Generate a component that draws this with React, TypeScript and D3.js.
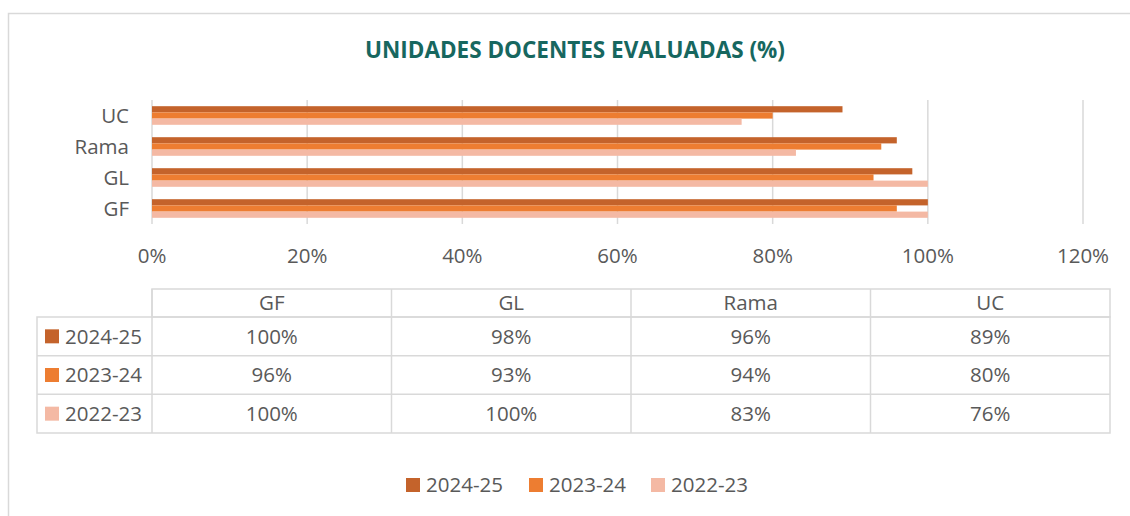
import React, { useEffect, useRef } from 'react';
import * as d3 from 'd3';

const categories = ['GF', 'GL', 'Rama', 'UC'];
const seriesNames = ['2024-25', '2023-24', '2022-23'];
const values2425 = [1.0, 0.98, 0.96, 0.89];
const values2324 = [0.96, 0.93, 0.94, 0.8];
const values2223 = [1.0, 1.0, 0.83, 0.76];
const xTicks = [0, 0.2, 0.4, 0.6, 0.8, 1.0, 1.2];
const seriesColors = ['#C4632B', '#ED7D31', '#F4B9A4'];

const TITLE = 'UNIDADES DOCENTES EVALUADAS (%)';
const FONT = '"Open Sans", "Noto Sans", sans-serif';
const TEXT = '#595959';
const GRID = '#D9D9D9';
const FS = 20.5;

export default function App() {
  const ref = useRef<SVGSVGElement>(null);

  useEffect(() => {
    if (!ref.current) return;
    const svg = d3.select(ref.current);
    svg.selectAll('*').remove();

    const seriesValues = [values2425, values2324, values2223];
    const fmt = d3.format('.0%');

    // chart area border (runs off the right and bottom edge)
    svg.append('rect')
      .attr('x', 8.5).attr('y', 13.5).attr('width', 1200).attr('height', 600)
      .attr('fill', '#fff').attr('stroke', GRID).attr('stroke-width', 1.5);

    svg.append('text')
      .attr('x', 575).attr('y', 58)
      .attr('text-anchor', 'middle')
      .attr('font-family', FONT).attr('font-weight', 700).attr('font-size', 22.5)
      .attr('fill', '#17675F')
      .text(TITLE);

    const x = d3.scaleLinear().domain([0, 1.2]).range([152, 1083]);
    const y = d3.scaleBand<string>()
      .domain([...categories].reverse())
      .range([100, 224])
      .paddingInner(0.4).paddingOuter(0.2);
    const ySub = d3.scaleBand<string>().domain(seriesNames).range([0, y.bandwidth()]);

    // gridlines
    svg.append('g').selectAll('line').data(xTicks).join('line')
      .attr('x1', d => x(d)).attr('x2', d => x(d))
      .attr('y1', 100).attr('y2', 224)
      .attr('stroke', GRID).attr('stroke-width', 1.5);

    // bars
    seriesNames.forEach((s, si) => {
      svg.append('g').selectAll('rect').data(categories).join('rect')
        .attr('x', x(0))
        .attr('y', c => (y(c) ?? 0) + (ySub(s) ?? 0))
        .attr('width', (c, i) => x(seriesValues[si][i]) - x(0))
        .attr('height', ySub.bandwidth())
        .attr('fill', seriesColors[si]);
    });

    // category labels
    svg.append('g').selectAll('text').data(categories).join('text')
      .attr('x', 129)
      .attr('y', c => (y(c) ?? 0) + y.bandwidth() / 2)
      .attr('dy', '0.35em')
      .attr('text-anchor', 'end')
      .attr('font-family', FONT).attr('font-size', FS).attr('fill', TEXT)
      .text(c => c);

    // x tick labels
    svg.append('g').selectAll('text').data(xTicks).join('text')
      .attr('x', d => x(d)).attr('y', 263)
      .attr('text-anchor', 'middle')
      .attr('font-family', FONT).attr('font-size', FS).attr('fill', TEXT)
      .text(d => fmt(d));

    // data table
    const col = d3.scaleBand<string>().domain(categories).range([152, 1110]);
    const row = d3.scaleBand<string>().domain(seriesNames).range([317, 433]);
    const tbl = svg.append('g');
    const lineAttrs = (sel: any) => sel.attr('stroke', GRID).attr('stroke-width', 1.5).attr('fill', 'none');

    // header frame
    lineAttrs(tbl.append('rect').attr('x', 152).attr('y', 289).attr('width', 958).attr('height', 28));
    // body frame
    lineAttrs(tbl.append('rect').attr('x', 37).attr('y', 317).attr('width', 1073).attr('height', 116));
    // row separators
    seriesNames.slice(1).forEach(s => {
      lineAttrs(tbl.append('line').attr('x1', 37).attr('x2', 1110).attr('y1', row(s)).attr('y2', row(s)));
    });
    // column separators
    categories.forEach(c => {
      lineAttrs(tbl.append('line').attr('x1', col(c)).attr('x2', col(c)).attr('y1', 289).attr('y2', 433));
    });

    tbl.append('g').selectAll('text').data(categories).join('text')
      .attr('x', c => (col(c) ?? 0) + col.bandwidth() / 2)
      .attr('y', 303).attr('dy', '0.35em')
      .attr('text-anchor', 'middle')
      .attr('font-family', FONT).attr('font-size', FS).attr('fill', TEXT)
      .text(c => c);

    seriesNames.forEach((s, si) => {
      const cy = (row(s) ?? 0) + row.bandwidth() / 2;
      tbl.append('rect')
        .attr('x', 45).attr('y', cy - 7).attr('width', 14).attr('height', 14)
        .attr('fill', seriesColors[si]);
      tbl.append('text')
        .attr('x', 65).attr('y', cy).attr('dy', '0.35em')
        .attr('font-family', FONT).attr('font-size', FS).attr('fill', TEXT)
        .text(s);
      tbl.append('g').selectAll('text').data(categories).join('text')
        .attr('x', c => (col(c) ?? 0) + col.bandwidth() / 2)
        .attr('y', cy).attr('dy', '0.35em')
        .attr('text-anchor', 'middle')
        .attr('font-family', FONT).attr('font-size', FS).attr('fill', TEXT)
        .text((c, i) => fmt(seriesValues[si][i]));
    });

    // legend
    const legendX = [406, 529, 651];
    seriesNames.forEach((s, si) => {
      const g = svg.append('g').attr('transform', `translate(${legendX[si]},485)`);
      g.append('rect').attr('x', 0).attr('y', -7).attr('width', 14).attr('height', 14).attr('fill', seriesColors[si]);
      g.append('text').attr('x', 20).attr('y', 0).attr('dy', '0.35em')
        .attr('font-family', FONT).attr('font-size', FS).attr('fill', TEXT)
        .text(s);
    });
  }, []);

  return (
    <svg
      ref={ref}
      width={1130}
      height={516}
      style={{ position: 'absolute', left: 0, top: 0, background: '#fff' }}
    />
  );
}
